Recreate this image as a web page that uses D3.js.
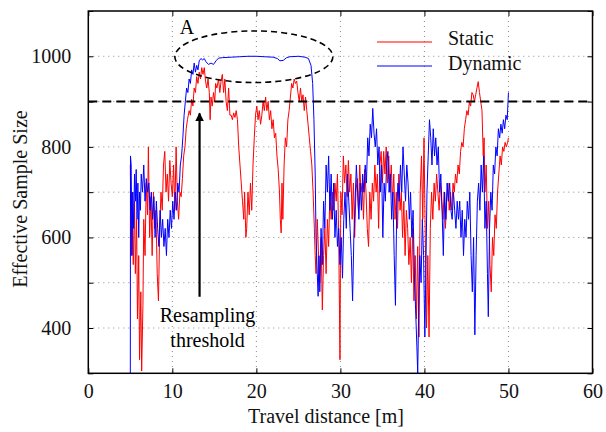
<!DOCTYPE html>
<html>
<head>
<meta charset="utf-8">
<script src="https://cdn.jsdelivr.net/npm/d3@7"></script>
<style>
  body { margin: 0; background: #fff; }
  svg { display: block; font-family: "Liberation Serif", "Times New Roman", serif; }
</style>
</head>
<body>
<div class="charts-div"></div>
<script>
// Static (red) series
const staticX = [5.0,5.1,5.2,5.35,5.5,5.6,5.75,5.85,6.0,6.1,6.25,6.35,6.5,6.6,6.75,6.9,7.05,7.15,7.3,7.45,7.6,7.75,7.9,8.05,8.2,8.35,8.5,8.65,8.8,8.95,9.1,9.25,9.4,9.55,9.7,9.85,10.0,10.15,10.3,10.45,10.6,10.75,10.9,11.05,11.2,11.35,11.5,11.65,11.8,12.0,12.15,12.3,12.45,12.6,12.75,12.9,13.05,13.2,13.35,13.5,13.65,13.8,13.95,14.1,14.25,14.4,14.5,14.6,14.75,14.9,15.05,15.15,15.3,15.5,15.65,15.8,15.95,16.1,16.25,16.4,16.55,16.7,16.85,17.0,17.15,17.3,17.45,17.6,17.75,17.9,18.05,18.2,18.35,18.5,18.6,18.75,18.85,19.0,19.15,19.3,19.45,19.6,19.75,19.9,20.05,20.2,20.35,20.5,20.65,20.8,20.95,21.1,21.25,21.4,21.55,21.7,21.85,22.0,22.15,22.3,22.45,22.6,22.75,22.85,22.95,23.05,23.15,23.3,23.45,23.6,23.75,23.9,24.05,24.2,24.35,24.5,24.65,24.8,24.95,25.1,25.25,25.4,25.55,25.7,25.85,26.0,26.15,26.3,26.45,26.6,26.75,26.9,27.0,27.1,27.25,27.4,27.55,27.7,27.85,28.0,28.15,28.3,28.45,28.6,28.75,28.9,29.05,29.2,29.35,29.5,29.65,29.8,29.95,30.05,30.2,30.35,30.5,30.65,30.8,30.95,31.1,31.25,31.4,31.55,31.7,31.85,32.0,32.15,32.3,32.45,32.6,32.75,32.9,33.05,33.2,33.35,33.5,33.65,33.8,33.95,34.1,34.25,34.4,34.55,34.7,34.85,35.0,35.15,35.3,35.45,35.6,35.75,35.9,36.05,36.2,36.35,36.5,36.65,36.8,36.95,37.1,37.25,37.4,37.55,37.7,37.85,38.0,38.15,38.3,38.45,38.6,38.75,38.9,39.05,39.2,39.35,39.5,39.65,39.8,39.95,40.1,40.25,40.4,40.55,40.7,40.85,41.0,41.15,41.3,41.45,41.6,41.75,41.9,42.05,42.2,42.35,42.5,42.65,42.8,42.95,43.1,43.25,43.4,43.55,43.7,43.85,44.0,44.15,44.3,44.45,44.6,44.75,44.9,45.05,45.2,45.35,45.5,45.65,45.8,45.95,46.1,46.25,46.4,46.55,46.7,46.85,47.0,47.1,47.2,47.35,47.5,47.65,47.8,47.95,48.1,48.25,48.4,48.55,48.7,48.85,49.0,49.15,49.3,49.45,49.6,49.75,49.9,50.0];
const staticY = [760,560,700,540,680,520,640,420,560,330,480,305,450,640,560,720,650,800,600,690,560,700,620,660,520,460,620,700,660,760,790,700,740,680,770,720,690,760,660,800,680,640,700,690,730,780,800,840,860,880,870,905,890,930,920,955,940,965,950,975,960,975,945,930,950,920,860,910,890,920,900,940,930,950,920,945,960,920,950,900,880,930,870,870,860,875,865,880,860,800,760,720,680,640,700,600,620,700,650,720,660,760,820,870,890,860,880,850,870,900,880,910,880,900,860,880,840,860,820,830,780,750,700,640,610,720,640,760,820,800,860,880,910,940,930,950,940,945,920,900,930,900,915,880,910,880,850,820,790,760,700,620,560,520,640,560,500,600,440,560,620,520,640,580,700,640,700,660,720,680,740,600,330,700,650,780,720,760,690,770,700,740,640,720,600,700,730,660,760,700,720,640,750,700,620,580,700,640,720,680,760,700,740,620,760,790,720,790,740,800,720,780,700,760,680,740,640,700,620,740,660,700,600,680,560,660,620,540,600,500,620,460,560,420,580,380,700,780,640,820,600,400,560,380,620,700,640,720,680,740,700,660,720,680,640,700,620,680,720,660,700,660,720,700,740,720,760,740,790,810,800,840,860,880,870,900,890,920,915,900,915,930,944,920,900,880,780,820,700,760,620,680,540,480,600,560,650,620,700,740,780,760,800,790,810,800,810,820];

// Dynamic (blue) series
const dynamicX = [5.0,5.02,5.1,5.2,5.3,5.4,5.5,5.6,5.7,5.8,5.9,6.0,6.1,6.2,6.3,6.45,6.6,6.75,6.9,7.05,7.2,7.35,7.5,7.65,7.8,7.95,8.1,8.25,8.4,8.55,8.7,8.85,9.0,9.15,9.3,9.45,9.6,9.75,9.9,10.05,10.2,10.35,10.5,10.65,10.8,10.95,11.1,11.25,11.4,11.55,11.7,11.85,12.0,12.15,12.3,12.45,12.6,12.75,12.9,13.05,13.2,13.4,13.6,13.8,14.0,14.3,14.6,14.9,15.2,15.5,16.0,17.0,18.0,19.0,20.0,21.0,22.0,22.5,22.8,23.2,23.6,24.0,25.0,25.8,26.2,26.5,26.7,26.85,27.0,27.1,27.25,27.35,27.45,27.55,27.7,27.85,28.0,28.15,28.3,28.45,28.6,28.75,28.9,29.05,29.2,29.35,29.5,29.65,29.8,29.95,30.1,30.25,30.4,30.55,30.7,30.85,31.0,31.15,31.3,31.45,31.6,31.75,31.9,32.05,32.2,32.35,32.5,32.65,32.8,32.95,33.1,33.25,33.4,33.55,33.7,33.85,34.0,34.15,34.3,34.45,34.6,34.75,34.9,35.05,35.2,35.35,35.5,35.65,35.8,35.95,36.1,36.25,36.4,36.55,36.7,36.85,37.0,37.15,37.3,37.45,37.6,37.75,37.9,38.05,38.2,38.35,38.5,38.65,38.8,38.95,39.1,39.2,39.3,39.45,39.6,39.75,39.9,40.05,40.15,40.3,40.45,40.6,40.75,40.9,41.05,41.2,41.35,41.5,41.65,41.8,41.95,42.1,42.25,42.4,42.55,42.7,42.85,43.0,43.15,43.3,43.45,43.6,43.75,43.9,44.05,44.2,44.35,44.5,44.65,44.8,44.95,45.1,45.25,45.4,45.55,45.7,45.85,46.0,46.15,46.3,46.45,46.6,46.75,46.9,47.05,47.2,47.35,47.5,47.6,47.75,47.9,48.05,48.2,48.35,48.5,48.65,48.8,48.95,49.1,49.25,49.4,49.55,49.7,49.85,50.0];
const dynamicY = [300,780,760,560,700,620,740,680,750,640,720,600,700,660,740,700,760,680,730,700,720,660,700,640,690,600,680,620,580,660,600,640,580,620,560,640,600,660,620,680,640,700,660,720,700,760,780,820,870,900,930,920,950,940,970,960,985,965,980,970,990,995,992,995,988,982,985,982,990,996,997,998,999,1000,1000,999,998,995,990,991,997,999,1000,998,995,980,940,860,740,600,520,470,560,480,620,540,680,620,760,700,780,660,740,640,720,600,660,580,620,540,600,510,640,700,620,740,680,620,560,460,600,680,760,700,640,720,660,740,700,760,720,820,780,850,820,885,830,800,840,760,800,700,760,600,720,680,760,790,700,740,640,700,560,450,660,720,680,760,700,800,740,680,760,720,640,700,600,660,520,440,360,300,420,560,500,640,560,380,500,700,780,860,820,760,840,780,820,760,800,700,740,660,560,700,640,720,680,720,660,640,700,660,620,680,640,680,600,660,560,640,600,680,640,700,560,480,600,385,560,680,720,660,760,700,780,620,680,520,425,620,700,660,760,740,800,780,840,820,850,830,860,840,870,860,920];

const seriesNames = ["Static", "Dynamic"];
const seriesColors = ["#ff0000", "#0000ff"];
const xTicks = [0, 10, 20, 30, 40, 50, 60];
const yTicks = [300, 400, 500, 600, 700, 800, 900, 1000, 1100];
const yLabels = [400, 600, 800, 1000];
const threshold = 900;
// annotation positions in data units
const ellipseA = { cx: 19.7, cy: 999, rx: 9.4, ry: 57 };
const arrowX = 13.24, arrowFrom = 469, arrowTo = 874;

const W = 606, H = 432;
const margin = { top: 11, right: 13.5, bottom: 58.7, left: 88.3 };
const width = W - margin.left - margin.right,
    height = H - margin.top - margin.bottom;

const x = d3.scaleLinear().domain([0, 60]).range([0, width]);
const y = d3.scaleLinear().domain([300, 1100]).range([height, 0]);

const svg = d3.select(".charts-div").append("svg")
    .attr("width", W).attr("height", H);

const defs = svg.append("defs");
defs.append("clipPath").attr("id", "plotClip")
    .append("rect").attr("width", width).attr("height", height);
defs.append("marker")
    .attr("id", "arrowHead")
    .attr("viewBox", "0 0 10 10")
    .attr("refX", 9).attr("refY", 5)
    .attr("markerWidth", 4).attr("markerHeight", 4.5)
    .attr("markerUnits", "strokeWidth")
    .attr("orient", "auto")
    .append("path").attr("d", "M0,0 L10,5 L0,10 Z").attr("fill", "#000");

const g = svg.append("g").attr("transform", `translate(${margin.left},${margin.top})`);

// dotted grid
g.append("g").selectAll("line")
    .data(xTicks.filter((d) => d > 0 && d < 60))
    .join("line")
    .attr("x1", (d) => x(d)).attr("x2", (d) => x(d))
    .attr("y1", 0).attr("y2", height)
    .attr("stroke", "#8a8a8a").attr("stroke-width", 1).attr("stroke-dasharray", "1,4");
g.append("g").selectAll("line")
    .data(yTicks.filter((d) => d > 300 && d < 1100))
    .join("line")
    .attr("x1", 0).attr("x2", width)
    .attr("y1", (d) => y(d)).attr("y2", (d) => y(d))
    .attr("stroke", "#8a8a8a").attr("stroke-width", 1).attr("stroke-dasharray", "1,4");

// data lines
const line = d3.line().x((d) => x(d[0])).y((d) => y(d[1]));
const plot = g.append("g").attr("clip-path", "url(#plotClip)");
const series = [
    d3.zip(staticX, staticY),
    d3.zip(dynamicX, dynamicY)
];
series.forEach((pts, i) => {
    plot.append("path")
        .datum(pts)
        .attr("fill", "none")
        .attr("stroke", seriesColors[i])
        .attr("stroke-width", 1)
        .attr("stroke-linejoin", "round")
        .attr("d", line);
});

// resampling threshold
g.append("line")
    .attr("x1", 0).attr("x2", width)
    .attr("y1", y(threshold)).attr("y2", y(threshold))
    .attr("stroke", "#000").attr("stroke-width", 2).attr("stroke-dasharray", "9,5");

// region A
g.append("ellipse")
    .attr("cx", x(ellipseA.cx)).attr("cy", y(ellipseA.cy))
    .attr("rx", x(ellipseA.cx + ellipseA.rx) - x(ellipseA.cx))
    .attr("ry", y(ellipseA.cy - ellipseA.ry) - y(ellipseA.cy))
    .attr("fill", "none").attr("stroke", "#000")
    .attr("stroke-width", 1.6).attr("stroke-dasharray", "6,4");
g.append("text")
    .attr("x", x(ellipseA.cx) - 74).attr("y", y(ellipseA.cy) - 23)
    .attr("font-size", 20).text("A");

// arrow + its label
g.append("line")
    .attr("x1", x(arrowX)).attr("x2", x(arrowX))
    .attr("y1", y(arrowFrom)).attr("y2", y(arrowTo))
    .attr("stroke", "#000").attr("stroke-width", 2.2)
    .attr("marker-end", "url(#arrowHead)");
const note = g.append("text")
    .attr("text-anchor", "middle").attr("font-size", 20)
    .attr("x", x(arrowX) + 8).attr("y", y(arrowFrom) + 25.5);
note.append("tspan").attr("x", x(arrowX) + 8).text("Resampling");
note.append("tspan").attr("x", x(arrowX) + 8).attr("dy", 24.5).text("threshold");

// axes (ticks point inward like the original)
const xAxis = g.append("g").attr("transform", `translate(0,${height})`)
    .call(d3.axisBottom(x).tickValues(xTicks).tickSize(-5).tickPadding(11));
const yAxis = g.append("g")
    .call(d3.axisLeft(y).tickValues(yTicks).tickSize(-5).tickPadding(17)
        .tickFormat((d) => (yLabels.includes(d) ? d : "")));
g.append("g").attr("transform", `translate(${width},0)`)
    .call(d3.axisRight(y).tickValues(yTicks).tickSize(-5).tickFormat(""));
g.append("g")
    .call(d3.axisTop(x).tickValues(xTicks).tickSize(-5).tickFormat(""));
g.selectAll(".domain").remove();
g.selectAll(".tick line").attr("stroke", "#000");
[xAxis, yAxis].forEach((a) => a.selectAll("text")
    .attr("font-family", "Liberation Serif, serif").attr("font-size", 20).attr("fill", "#111"));

g.append("rect")
    .attr("width", width).attr("height", height)
    .attr("fill", "none").attr("stroke", "#000").attr("stroke-width", 1.5);

// axis titles
svg.append("text")
    .attr("x", 326).attr("y", 423)
    .attr("text-anchor", "middle").attr("font-size", 20).attr("fill", "#111")
    .text("Travel distance [m]");
svg.append("text")
    .attr("transform", "translate(27,199) rotate(-90)")
    .attr("text-anchor", "middle").attr("font-size", 20).attr("fill", "#111")
    .text("Effective Sample Size");

// legend
const legend = svg.append("g").attr("transform", "translate(377,42)");
seriesNames.forEach((name, i) => {
    const row = legend.append("g").attr("transform", `translate(0,${i * 24})`);
    row.append("line").attr("x1", 0).attr("x2", 55)
        .attr("stroke", seriesColors[i]).attr("stroke-width", 1.2);
    row.append("text").attr("x", 71).attr("y", 2.5 + i * 1.5)
        .attr("font-size", 20).attr("fill", "#111").text(name);
});
</script>
</body>
</html>
